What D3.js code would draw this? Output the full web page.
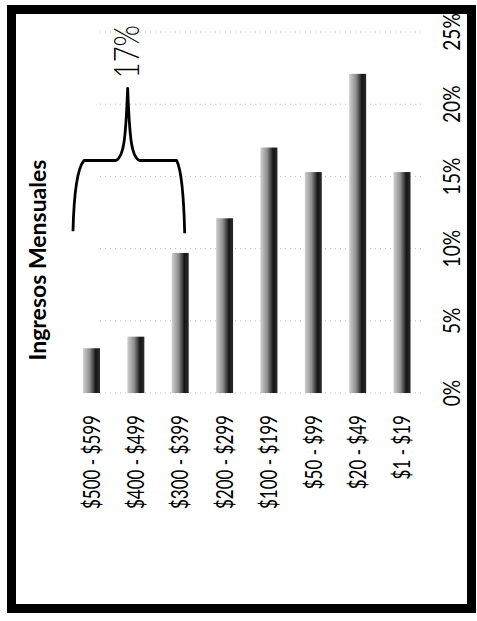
<!DOCTYPE html>
<html>
<head>
<meta charset="utf-8">
<script src="https://cdn.jsdelivr.net/npm/d3@7"></script>
<style>
  body { margin: 0; background: #fff; }
  svg { display: block; }
</style>
</head>
<body>
<svg id="chart" width="477" height="621"></svg>
<script>
// income brackets, top to bottom in the upright chart
const categories = ["$500 - $599", "$400 - $499", "$300 - $399", "$200 - $299",
                    "$100 - $199", "$50 - $99", "$20 - $49", "$1 - $19"];
const percents = [3.1, 3.9, 9.7, 12.1, 17.0, 15.3, 22.1, 15.3];
const tickValues = [0, 5, 10, 15, 20, 25];
const tickLabels = ["0%", "5%", "10%", "15%", "20%", "25%"];
const title = "Ingresos Mensuales";
const bracketCats = ["$500 - $599", "$400 - $499", "$300 - $399"];

const W = 477, H = 621;
const svg = d3.select("#chart");

// frame
svg.append("rect")
  .attr("x", 11.5).attr("y", 9.5)
  .attr("width", 460).attr("height", 599)
  .attr("fill", "none").attr("stroke", "#000").attr("stroke-width", 9);

const defs = svg.append("defs");
const grad = defs.append("linearGradient")
  .attr("id", "barGrad")
  .attr("x1", 0).attr("y1", 0).attr("x2", 0).attr("y2", 1);
grad.append("stop").attr("offset", "0%").attr("stop-color", "#d0d0d0");
grad.append("stop").attr("offset", "40%").attr("stop-color", "#8e8e8e");
grad.append("stop").attr("offset", "75%").attr("stop-color", "#161616");
grad.append("stop").attr("offset", "100%").attr("stop-color", "#2a2a2a");

// the whole chart is turned a quarter turn to the left
const g = svg.append("g").attr("transform", "translate(0," + H + ") rotate(-90)");

const x = d3.scaleLinear().domain([0, 25]).range([228, 589]);
const y = d3.scaleBand().domain(categories).range([69.3, 424.2])
  .paddingInner(0.617).paddingOuter(0.3085);

// faint dotted grid
g.append("g").selectAll("line")
  .data(tickValues)
  .join("line")
  .attr("x1", d => x(d)).attr("x2", d => x(d))
  .attr("y1", 100).attr("y2", 422)
  .attr("stroke", "#bbb").attr("stroke-width", 1)
  .attr("stroke-dasharray", "1,4");

// bars
g.append("g").selectAll("rect")
  .data(categories)
  .join("rect")
  .attr("x", x(0))
  .attr("y", d => y(d))
  .attr("width", (d, i) => x(percents[i]) - x(0))
  .attr("height", y.bandwidth())
  .attr("fill", "url(#barGrad)");

function squeeze(sel, k) {
  sel.each(function () {
    this.setAttribute("textLength", this.getComputedTextLength() * k);
    this.setAttribute("lengthAdjust", "spacingAndGlyphs");
  });
}

// category labels
const catText = g.append("g").selectAll("text")
  .data(categories)
  .join("text")
  .attr("x", 206)
  .attr("y", d => y(d) + y.bandwidth() / 2)
  .attr("dy", "0.36em")
  .attr("text-anchor", "end")
  .attr("font-family", "Lato, sans-serif")
  .attr("font-weight", 400)
  .attr("font-size", 23)
  .attr("fill", "#000")
  .text(d => d);
squeeze(catText, 0.74);

// value axis labels
const tickText = g.append("g").selectAll("text")
  .data(tickValues)
  .join("text")
  .attr("x", d => x(d))
  .attr("y", 460)
  .attr("text-anchor", "middle")
  .attr("font-family", "Lato, sans-serif")
  .attr("font-weight", 400)
  .attr("font-size", 24)
  .attr("fill", "#000")
  .text((d, i) => tickLabels[i]);
squeeze(tickText, 0.8);

// title
g.append("text")
  .attr("x", 361).attr("y", 46)
  .attr("text-anchor", "middle")
  .attr("font-family", "Lato, sans-serif")
  .attr("font-weight", 700)
  .attr("font-size", 23)
  .attr("fill", "#000")
  .text(title);

// brace over the three top brackets
const total = d3.sum(bracketCats, c => percents[categories.indexOf(c)]);
const v0 = y(bracketCats[0]) - 10;
const v1 = y(bracketCats[bracketCats.length - 1]) + y.bandwidth() - 4;
const vm = (y(bracketCats[0]) + y(bracketCats[1])) / 2 + y.bandwidth() / 2 + 14;
const uBase = x(11.2), uFlat = x(16.1), uPeak = x(21.1);
const p = d3.path();
p.moveTo(uBase, v0);
p.bezierCurveTo(uBase + 40, v0 + 1, uFlat - 8, v0 + 4, uFlat, v0 + 11);
p.lineTo(uFlat, vm - 12);
p.bezierCurveTo(uFlat + 3, vm - 4, uFlat + 20, vm - 2, uPeak, vm);
p.bezierCurveTo(uFlat + 20, vm + 2, uFlat + 3, vm + 4, uFlat, vm + 12);
p.lineTo(uFlat, v1 - 8);
p.bezierCurveTo(uFlat - 8, v1 - 4, uBase + 40, v1 - 1, uBase - 2, v1);
g.append("path")
  .attr("d", p.toString())
  .attr("fill", "none")
  .attr("stroke", "#000")
  .attr("stroke-width", 2.8)
  .attr("stroke-linejoin", "round");

const ann = g.append("text")
  .attr("x", x(21.8)).attr("y", vm + 11)
  .attr("font-family", "Lato, sans-serif")
  .attr("font-weight", 300)
  .attr("font-size", 36)
  .attr("fill", "#000")
  .text(Math.round(total) + "%");
ann.each(function () {
  this.setAttribute("textLength", 53);
  this.setAttribute("lengthAdjust", "spacingAndGlyphs");
});
</script>
</body>
</html>
